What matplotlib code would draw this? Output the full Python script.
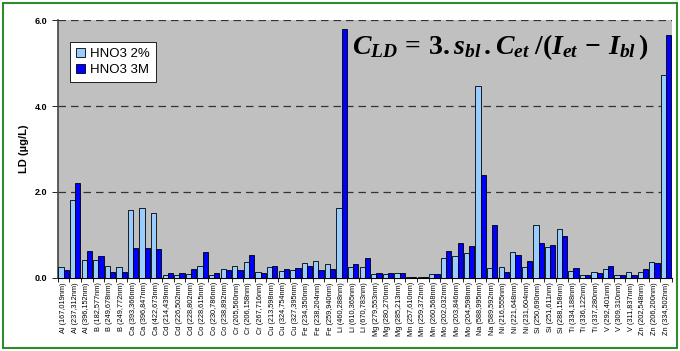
import numpy as np
import matplotlib
matplotlib.use('Agg')
import matplotlib.pyplot as plt
from matplotlib.patches import Rectangle

plt.rcParams['font.family'] = ['Liberation Sans', 'DejaVu Sans']
plt.rcParams['mathtext.fontset'] = 'custom'
plt.rcParams['mathtext.rm'] = 'Liberation Serif:bold'
plt.rcParams['mathtext.it'] = 'Liberation Serif:italic:bold'
plt.rcParams['mathtext.bf'] = 'Liberation Serif:bold'

# comprimentos de onda
labels = [
    'Al (167,019nm)', 'Al (237,312nm)', 'Al (396,152nm)',
    'B (182,577nm)', 'B (249,678nm)', 'B (249,772nm)',
    'Ca (393,366nm)', 'Ca (396,847nm)', 'Ca (422,673nm)',
    'Cd (214,439nm)', 'Cd (226,502nm)', 'Cd (228,802nm)',
    'Co (228,615nm)', 'Co (230,786nm)', 'Co (238,892nm)',
    'Cr (205,560nm)', 'Cr (206,158nm)', 'Cr (267,716nm)',
    'Cu (213,598nm)', 'Cu (324,754nm)', 'Cu (327,395nm)',
    'Fe (234,350nm)', 'Fe (238,204nm)', 'Fe (259,940nm)',
    'Li (460,288nm)', 'Li (610,365nm)', 'Li (670,783nm)',
    'Mg (279,553nm)', 'Mg (280,270nm)', 'Mg (285,213nm)',
    'Mn (257,610nm)', 'Mn (259,372nm)', 'Mn (260,568nm)',
    'Mo (202,032nm)', 'Mo (203,846nm)', 'Mo (204,598nm)',
    'Na (588,995nm)', 'Na (589,592nm)',
    'Ni (216,555nm)', 'Ni (221,648nm)', 'Ni (231,604nm)',
    'Si (250,690nm)', 'Si (251,611nm)', 'Si (288,158nm)',
    'Ti (334,188nm)', 'Ti (336,122nm)', 'Ti (337,280nm)',
    'V (292,401nm)', 'V (309,310nm)', 'V (311,837nm)',
    'Zn (202,548nm)', 'Zn (206,200nm)', 'Zn (334,502nm)',
]

# HNO3 2%
ld_2pct = [
    0.25, 1.81, 0.43, 0.42, 0.29, 0.25, 1.57, 1.63, 1.50,
    0.08, 0.07, 0.10, 0.28, 0.08, 0.20, 0.29, 0.37, 0.14,
    0.26, 0.16, 0.18, 0.36, 0.39, 0.32, 1.62, 0.26, 0.26,
    0.09, 0.09, 0.11, 0.03, 0.03, 0.09, 0.47, 0.50, 0.58,
    4.47, 0.24, 0.26, 0.60, 0.26, 1.23, 0.71, 1.15,
    0.16, 0.08, 0.15, 0.21, 0.08, 0.15, 0.14, 0.37, 4.72,
]

# HNO3 3M
ld_3m = [
    0.18, 2.22, 0.63, 0.51, 0.14, 0.13, 0.69, 0.69, 0.67,
    0.11, 0.12, 0.20, 0.60, 0.11, 0.18, 0.18, 0.53, 0.11,
    0.29, 0.20, 0.24, 0.29, 0.18, 0.22, 5.78, 0.32, 0.46,
    0.12, 0.12, 0.11, 0.02, 0.02, 0.09, 0.63, 0.81, 0.74,
    2.40, 1.23, 0.15, 0.53, 0.39, 0.82, 0.77, 0.97,
    0.24, 0.08, 0.11, 0.29, 0.08, 0.07, 0.20, 0.36, 5.65,
]

x = np.arange(len(labels))
w = 0.45

fig = plt.figure(figsize=(6.8, 3.51), dpi=100)
ax = fig.add_axes([0.085, 0.208, 0.903, 0.735])
ax.set_facecolor('#C0C0C0')

ax.bar(x - w / 2, ld_2pct, w, color='#99CCFF', edgecolor='black', linewidth=0.6, label='HNO3 2%', zorder=3)
ax.bar(x + w / 2, ld_3m, w, color='#0000FF', edgecolor='black', linewidth=0.6, label='HNO3 3M', zorder=3)

ax.set_xlim(-0.5, len(labels) - 0.5)
ax.set_ylim(0, 6)
ax.set_yticks([0, 2, 4, 6])
ax.set_yticklabels(['0.0', '2.0', '4.0', '6.0'], fontsize=6.5, fontweight='bold')
ax.yaxis.grid(True, linestyle=(0, (6, 4)), color='#333333', linewidth=0.9, zorder=1)

ax.set_xticks(x)
ax.set_xticklabels(labels, rotation=90, fontsize=5.3)
ax.set_xticks(np.arange(len(labels) + 1) - 0.5, minor=True)
ax.tick_params(axis='x', which='major', length=0, pad=3)
ax.tick_params(axis='x', which='minor', length=3, width=0.6)
ax.tick_params(axis='y', length=4, width=0.6, direction='out')

ax.set_ylabel('LD (µg/L)', fontsize=8, fontweight='bold', labelpad=4)

ax.spines['top'].set_visible(False)
ax.spines['right'].set_visible(False)
ax.spines['left'].set_color('#444444')
ax.spines['left'].set_linewidth(1.2)
ax.spines['bottom'].set_linewidth(0.8)

leg = ax.legend(loc='upper left', bbox_to_anchor=(0.009, 0.94), fontsize=9.5, frameon=True,
                fancybox=False, edgecolor='black', framealpha=1, handlelength=0.7,
                handleheight=0.7, handletextpad=0.4, borderpad=0.45, labelspacing=0.3)
leg.get_frame().set_linewidth(0.6)

ax.text(0.72, 0.895, r'$C_{LD}\,=\,3.s_{bl}\,.C_{et}\;/(I_{et}\,-\,I_{bl}\,)$',
        transform=ax.transAxes, ha='center', va='center', fontsize=20, zorder=5)

fig.patches.append(Rectangle((0.005, 0.008), 0.99, 0.984, transform=fig.transFigure,
                             fill=False, edgecolor='#2E8B2E', linewidth=1.5))

fig.savefig('out.png', dpi=100)
